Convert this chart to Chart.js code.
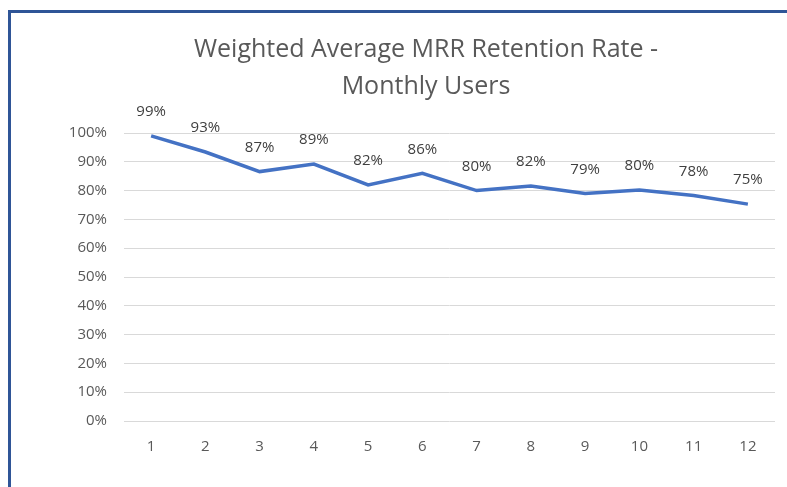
<!DOCTYPE html>
<html>
<head>
<meta charset="utf-8">
<script src="https://cdn.jsdelivr.net/npm/chart.js@4"></script>
<style>
  html, body { margin: 0; padding: 0; background: #fff; }
  #wrap { position: relative; width: 787px; height: 487px; }
  #frame {
    position: absolute; left: 8px; top: 10px; right: 0; bottom: 0;
    border-top: 3px solid #2F5597; border-left: 3px solid #2F5597;
    pointer-events: none;
  }
</style>
</head>
<body>
<div id="wrap">
  <canvas id="chart" width="787" height="487"></canvas>
  <div id="frame"></div>
</div>
<script>
// chart data
var months = ['1', '2', '3', '4', '5', '6', '7', '8', '9', '10', '11', '12'];
var retention = [0.99, 0.934, 0.866, 0.892, 0.82, 0.86, 0.80, 0.816, 0.79, 0.802, 0.783, 0.753];
var titleLines = ['Weighted Average MRR Retention Rate -', 'Monthly Users'];

var textGray = '#595959';
var font = "'Open Sans', 'DejaVu Sans', sans-serif";

// draw the % labels above each point
var pointLabels = {
  id: 'pointLabels',
  afterDatasetsDraw: function(chart) {
    var ctx = chart.ctx;
    var meta = chart.getDatasetMeta(0);
    ctx.save();
    ctx.font = '15px ' + font;
    ctx.fillStyle = '#404040';
    ctx.textAlign = 'center';
    ctx.textBaseline = 'middle';
    meta.data.forEach(function(pt, i) {
      ctx.fillText(Math.round(retention[i] * 100) + '%', pt.x, pt.y - 24);
    });
    ctx.restore();
  }
};

// title in the reference is centred a bit right of the canvas middle
var titleShift = {
  id: 'titleShift',
  afterLayout: function(chart) {
    var t = chart.titleBlock;
    if (t) { t.left = 77; t.right = 775; }
  }
};

new Chart(document.getElementById('chart'), {
  type: 'line',
  data: {
    labels: months,
    datasets: [{
      data: retention,
      borderColor: '#4472C4',
      borderWidth: 3.5,
      pointRadius: 0,
      tension: 0,
      fill: false
    }]
  },
  options: {
    responsive: false,
    animation: false,
    layout: { padding: { left: 60, right: 12, top: 0, bottom: 26 } },
    plugins: {
      legend: { display: false },
      tooltip: { enabled: false },
      title: {
        display: true,
        text: titleLines,
        color: textGray,
        font: { family: font, size: 25, weight: 'normal', lineHeight: 37 / 25 },
        padding: { top: 31, bottom: 28 }
      }
    },
    scales: {
      x: {
        offset: true,
        grid: { display: false },
        border: { display: false },
        ticks: { color: textGray, font: { family: font, size: 15 }, padding: 9, maxRotation: 0 },
        afterFit: function(s) { s.height = 40; }
      },
      y: {
        min: 0,
        max: 1,
        grid: { color: '#d9d9d9', lineWidth: 1, drawTicks: false },
        border: { display: false },
        ticks: {
          stepSize: 0.1,
          color: textGray,
          font: { family: font, size: 15 },
          padding: 17,
          callback: function(v) { return Math.round(v * 100) + '%'; }
        },
        afterFit: function(s) { s.width = 64; }
      }
    }
  },
  plugins: [pointLabels, titleShift]
});
</script>
</body>
</html>
